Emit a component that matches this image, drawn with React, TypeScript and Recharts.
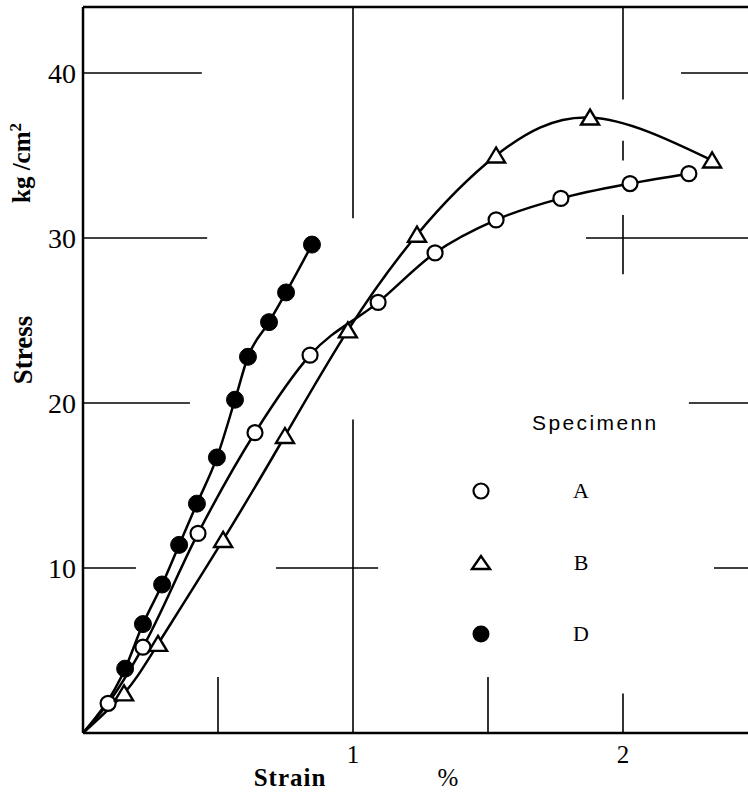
import { Label, Legend, Line, LineChart, ReferenceLine, XAxis, YAxis } from "recharts";

// strain (%) and stress (kg/cm2), one pair of arrays per specimen
const strainA = [0, 0.093, 0.222, 0.426, 0.637, 0.841, 1.093, 1.304, 1.53, 1.77, 2.026, 2.244];
const stressA = [0, 1.8, 5.2, 12.1, 18.2, 22.9, 26.1, 29.1, 31.1, 32.4, 33.3, 33.9];
const strainB = [0, 0.152, 0.278, 0.519, 0.748, 0.981, 1.237, 1.53, 1.878, 2.33];
const stressB = [0, 2.4, 5.4, 11.7, 18.0, 24.4, 30.2, 35.0, 37.3, 34.7];
const strainD = [0, 0.156, 0.222, 0.293, 0.356, 0.422, 0.496, 0.563, 0.611, 0.689, 0.752, 0.848];
const stressD = [0, 3.9, 6.6, 9.0, 11.4, 13.9, 16.7, 20.2, 22.8, 24.9, 26.7, 29.6];

const xTicks = [1, 2];
const yTicks = [10, 20, 30, 40];
const specimens = ["A", "B", "D"];

const X_MAX = 2.463;
const Y_MAX = 44;

// broken grid lines of the original figure: [level, from, to]
const hGrid: [number, number, number][] = [
  [40, 0, 0.44], [40, 2.215, X_MAX],
  [30, 0, 0.46], [30, 1.863, X_MAX],
  [20, 0, 0.396], [20, 2.244, X_MAX],
  [10, 0, 0.196], [10, 0.715, 1.093], [10, 2.337, X_MAX],
];
const vGrid: [number, number, number][] = [
  [1, 31.2, Y_MAX], [1, 0, 19.0],
  [2, 38.4, Y_MAX], [2, 34.7, 35.9], [2, 27.8, 31.4], [2, 0, 2.4],
  [0.5, 0, 3.4], [1.5, 0, 3.4],
];

const toPoints = (xs: number[], ys: number[]) => xs.map((x, i) => ({ x, y: ys[i] }));
const dataA = toPoints(strainA, stressA);
const dataB = toPoints(strainB, stressB);
const dataD = toPoints(strainD, stressD);

const SERIF = "'Liberation Serif', 'DejaVu Serif', serif";
const INK = "#000";

function OpenCircle(props: any) {
  const { cx, cy, index } = props;
  if (index === 0) return <g key={`a-${index}`} />;
  return <circle key={`a-${index}`} cx={cx} cy={cy} r={7.5} fill="#fff" stroke={INK} strokeWidth={2.2} />;
}

function Triangle(props: any) {
  const { cx, cy, index } = props;
  if (index === 0) return <g key={`b-${index}`} />;
  return (
    <polygon
      key={`b-${index}`}
      points={`${cx},${cy - 8} ${cx - 9},${cy + 7} ${cx + 9},${cy + 7}`}
      fill="#fff"
      stroke={INK}
      strokeWidth={2.4}
      strokeLinejoin="miter"
    />
  );
}

function FilledCircle(props: any) {
  const { cx, cy, index } = props;
  if (index === 0) return <g key={`d-${index}`} />;
  return <circle key={`d-${index}`} cx={cx} cy={cy} r={8.5} fill={INK} stroke={INK} />;
}

function SpecimenKey() {
  const rows = [491, 563, 634];
  return (
    <svg width={260} height={260} style={{ overflow: "visible" }}>
      <g transform="translate(-460,-400)">
        <text x={532} y={430} fontFamily="'Liberation Sans', Arial, sans-serif" fontSize={21} letterSpacing={2.4} fill={INK}>
          Specimenn
        </text>
        <circle cx={481} cy={rows[0]} r={7.5} fill="#fff" stroke={INK} strokeWidth={2.2} />
        <polygon points={`481,${rows[1] - 7} 472,${rows[1] + 6} 490,${rows[1] + 6}`} fill="#fff" stroke={INK} strokeWidth={2.4} />
        <circle cx={481} cy={rows[2]} r={8.5} fill={INK} />
        {specimens.map((s, i) => (
          <text key={s} x={581} y={rows[i] + 7} textAnchor="middle" fontFamily={SERIF} fontSize={22} fill={INK}>
            {s}
          </text>
        ))}
      </g>
    </svg>
  );
}

export default function App() {
  return (
    <div style={{ position: "absolute", left: 0, top: 0, background: "#fff" }}>
      <LineChart width={748} height={794} margin={{ top: 7, right: 0, bottom: 0, left: 0 }}>
        <XAxis
          type="number"
          dataKey="x"
          domain={[0, X_MAX]}
          ticks={xTicks}
          allowDataOverflow
          height={61}
          stroke={INK}
          strokeWidth={2.5}
          tickLine={false}
          tickMargin={6}
          tick={{ fontSize: 25, fill: INK, fontFamily: SERIF }}
        >
          <Label
            content={() => (
              <g>
                <text x={290} y={786} textAnchor="middle" fontFamily={SERIF} fontWeight="bold" fontSize={25} letterSpacing={1} fill={INK}>
                  Strain
                </text>
                <text x={448} y={786} textAnchor="middle" fontFamily={SERIF} fontSize={25} fill={INK}>
                  %
                </text>
              </g>
            )}
          />
        </XAxis>
        <YAxis
          type="number"
          dataKey="y"
          domain={[0, Y_MAX]}
          ticks={yTicks}
          allowDataOverflow
          width={83}
          stroke={INK}
          strokeWidth={2.5}
          tickLine={false}
          tickMargin={1}
          tick={{ fontSize: 28, fill: INK, fontFamily: SERIF }}
        >
          <Label
            content={() => (
              <g fontFamily={SERIF} fontWeight="bold" fill={INK}>
                <text transform="translate(32,350) rotate(-90)" textAnchor="middle" fontSize={27}>
                  Stress
                </text>
                <text transform="translate(30,163) rotate(-90)" textAnchor="middle" fontSize={25}>
                  kg /cm<tspan dy={-9} fontSize={17}>2</tspan>
                </text>
              </g>
            )}
          />
        </YAxis>
        <ReferenceLine y={Y_MAX} stroke={INK} strokeWidth={2.5} />
        {hGrid.map(([y, x1, x2], i) => (
          <ReferenceLine key={`h${i}`} segment={[{ x: x1, y }, { x: x2, y }]} stroke={INK} strokeWidth={1.6} />
        ))}
        {vGrid.map(([x, y1, y2], i) => (
          <ReferenceLine key={`v${i}`} segment={[{ x, y: y1 }, { x, y: y2 }]} stroke={INK} strokeWidth={1.6} />
        ))}
        <Line data={dataD} dataKey="y" type="monotone" stroke={INK} strokeWidth={2.5} dot={FilledCircle} activeDot={false} isAnimationActive={false} />
        <Line data={dataA} dataKey="y" type="monotone" stroke={INK} strokeWidth={2.5} dot={OpenCircle} activeDot={false} isAnimationActive={false} />
        <Line data={dataB} dataKey="y" type="natural" stroke={INK} strokeWidth={2.5} dot={Triangle} activeDot={false} isAnimationActive={false} />
        <Legend
          layout="vertical"
          align="center"
          verticalAlign="middle"
          content={() => <SpecimenKey />}
          wrapperStyle={{ left: 460, top: 400, width: 260, height: 260 }}
        />
      </LineChart>
    </div>
  );
}
